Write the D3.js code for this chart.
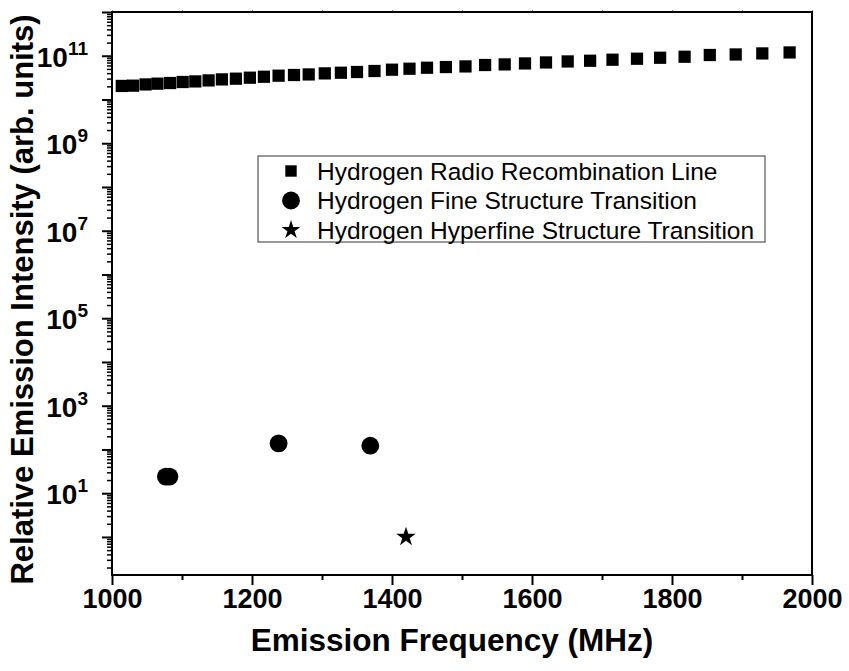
<!DOCTYPE html>
<html>
<head>
<meta charset="utf-8">
<script src="https://cdn.jsdelivr.net/npm/d3@7"></script>
<style>
  body { margin: 0; background: #fff; }
  svg text { font-family: "Liberation Sans", Arial, sans-serif; fill: #000; }
</style>
</head>
<body>
<svg id="chart"></svg>
<script>
// hydrogen radio recombination lines
const rrlFreq = [1014, 1030, 1048, 1065, 1083, 1101, 1119, 1138, 1157, 1177, 1197, 1217, 1238,
  1260, 1281, 1304, 1327, 1350, 1375, 1400, 1425, 1450, 1477, 1505, 1533, 1561, 1590, 1620,
  1651, 1683, 1715, 1750, 1783, 1818, 1854, 1891, 1929, 1968];
const rrlIntensity = [2.04e10, 2.07e10, 2.21e10, 2.30e10, 2.38e10, 2.51e10, 2.59e10, 2.73e10,
  2.88e10, 2.99e10, 3.15e10, 3.31e10, 3.50e10, 3.63e10, 3.74e10, 3.95e10, 4.09e10, 4.25e10,
  4.48e10, 4.80e10, 5.05e10, 5.32e10, 5.52e10, 5.70e10, 6.14e10, 6.34e10, 6.67e10, 7.03e10,
  7.41e10, 7.69e10, 8.11e10, 8.55e10, 9.00e10, 9.49e10, 1.04e11, 1.07e11, 1.13e11, 1.19e11];

// fine structure transitions
const fineFreq = [1077, 1082, 1238, 1369];
const fineIntensity = [24, 24, 138, 122];

// hyperfine (21 cm)
const hyperFreq = [1420];
const hyperIntensity = [1];

const xTickValues = [1000, 1200, 1400, 1600, 1800, 2000];
const xMinorValues = [1100, 1300, 1500, 1700, 1900];
const yLabelExponents = [1, 3, 5, 7, 9, 11];

const legendLabels = ["Hydrogen Radio Recombination Line",
  "Hydrogen Fine Structure Transition",
  "Hydrogen Hyperfine Structure Transition"];

const W = 849, H = 671;
const margin = {top: 12, right: 37, bottom: 96, left: 112};
const width = W - margin.left - margin.right;
const height = H - margin.top - margin.bottom;

const svg = d3.select("#chart").attr("width", W).attr("height", H);
const g = svg.append("g").attr("transform", "translate(" + margin.left + "," + margin.top + ")");

const x = d3.scaleLinear().domain([1000, 2000]).range([0, width]);
const y = d3.scaleLog().domain([0.135, 1e12]).range([height, 0]);

// minor log ticks 2..9 per decade
var yMajor = [], yMinor = [];
d3.range(-1, 13).forEach(e => {
  var p = Math.pow(10, e);
  if (p >= y.domain()[0] && p <= y.domain()[1]) yMajor.push(p);
  for (var k = 2; k < 10; k++) {
    var v = k * p;
    if (v >= y.domain()[0] && v <= y.domain()[1]) yMinor.push(v);
  }
});

// bottom axis
g.append("g")
  .attr("transform", "translate(0," + height + ")")
  .call(d3.axisBottom(x).tickValues(xMinorValues).tickSize(5).tickFormat(""))
  .call(a => a.select(".domain").remove())
  .selectAll("line").attr("stroke-width", 2);

var xAxis = g.append("g")
  .attr("class", "xaxis")
  .attr("transform", "translate(0," + height + ")")
  .call(d3.axisBottom(x).tickValues(xTickValues).tickSize(10).tickSizeOuter(0).tickFormat(d3.format("d")));
xAxis.select(".domain").remove();
xAxis.selectAll("line").attr("stroke-width", 2);
xAxis.selectAll("text")
  .attr("y", 14)
  .attr("dy", "0.71em")
  .style("font-size", "27px")
  .style("font-weight", "bold")
  .style("font-family", "'Liberation Sans', Arial, sans-serif");

// top ticks (short)
g.append("g")
  .call(d3.axisTop(x).tickValues(xTickValues.concat(xMinorValues)).tickSize(2).tickFormat(""))
  .call(a => a.select(".domain").remove())
  .selectAll("line").attr("stroke-width", 1).attr("stroke", "#888");

// left axis
g.append("g")
  .call(d3.axisLeft(y).tickValues(yMinor).tickSize(5).tickFormat(""))
  .call(a => a.select(".domain").remove())
  .selectAll("line").attr("stroke-width", 1.5);

g.append("g")
  .call(d3.axisLeft(y).tickValues(yMajor).tickSize(10).tickFormat(""))
  .call(a => a.select(".domain").remove())
  .selectAll("line").attr("stroke-width", 2);

// y labels as 10^n
var yLab = g.append("g").attr("class", "ylabels");
yLabelExponents.forEach(e => {
  var t = yLab.append("text")
    .attr("x", -24)
    .attr("y", y(Math.pow(10, e)) + 11)
    .attr("text-anchor", "end")
    .style("font-weight", "bold");
  t.append("tspan").style("font-size", "28px").text("10");
  t.append("tspan").attr("dy", -12).style("font-size", "19px").text(e);
});

// frame
g.append("rect")
  .attr("width", width)
  .attr("height", height)
  .attr("fill", "none")
  .attr("stroke", "#000")
  .attr("stroke-width", 2);

// axis titles
svg.append("text")
  .attr("x", 452)
  .attr("y", 651)
  .attr("text-anchor", "middle")
  .style("font-size", "31.5px")
  .style("font-weight", "bold")
  .text("Emission Frequency (MHz)");

svg.append("text")
  .attr("transform", "translate(33," + (margin.top + height / 2 + 6) + ") rotate(-90)")
  .attr("text-anchor", "middle")
  .style("font-size", "31px")
  .style("font-weight", "bold")
  .text("Relative Emission Intensity (arb. units)");

// data marks
const squareSym = d3.symbol().type(d3.symbolSquare).size(150);
const circleSym = d3.symbol().type(d3.symbolCircle).size(250);
const starSym = d3.symbol().type(d3.symbolStar).size(118);

g.selectAll(".rrl")
  .data(d3.zip(rrlFreq, rrlIntensity))
  .enter().append("path")
  .attr("class", "rrl")
  .attr("d", squareSym)
  .attr("transform", d => "translate(" + x(d[0]) + "," + y(d[1]) + ")")
  .attr("fill", "#000");

g.selectAll(".fine")
  .data(d3.zip(fineFreq, fineIntensity))
  .enter().append("path")
  .attr("class", "fine")
  .attr("d", circleSym)
  .attr("transform", d => "translate(" + x(d[0]) + "," + y(d[1]) + ")")
  .attr("fill", "#000");

g.selectAll(".hyper")
  .data(d3.zip(hyperFreq, hyperIntensity))
  .enter().append("path")
  .attr("class", "hyper")
  .attr("d", starSym)
  .attr("transform", d => "translate(" + x(d[0]) + "," + y(d[1]) + ")")
  .attr("fill", "#000");

// legend
const legend = svg.append("g").attr("transform", "translate(258,156)");
legend.append("rect")
  .attr("width", 507)
  .attr("height", 86)
  .attr("fill", "#fff")
  .attr("stroke", "#333")
  .attr("stroke-width", 1);

const legendSyms = [d3.symbol().type(d3.symbolSquare).size(130),
  d3.symbol().type(d3.symbolCircle).size(250),
  d3.symbol().type(d3.symbolStar).size(110)];

legendLabels.forEach((lab, i) => {
  var cy = 15 + i * 29.5;
  legend.append("path")
    .attr("d", legendSyms[i])
    .attr("transform", "translate(33," + cy + ")")
    .attr("fill", "#000");
  legend.append("text")
    .attr("x", 59)
    .attr("y", cy)
    .attr("dy", "0.35em")
    .style("font-size", "24.5px")
    .text(lab);
});
</script>
</body>
</html>
